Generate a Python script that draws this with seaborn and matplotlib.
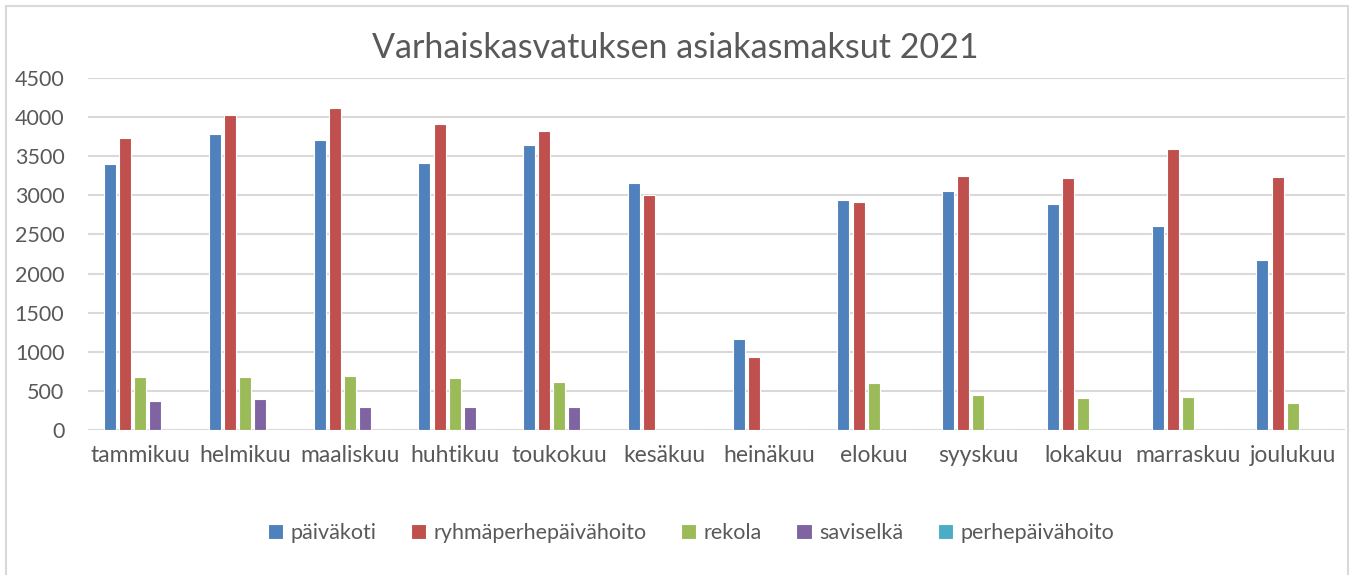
import pandas as pd
import matplotlib
matplotlib.use("Agg")
import matplotlib.pyplot as plt
import seaborn as sns
from matplotlib.patches import Rectangle

# Data
months = ["tammikuu", "helmikuu", "maaliskuu", "huhtikuu", "toukokuu", "kesäkuu",
          "heinäkuu", "elokuu", "syyskuu", "lokakuu", "marraskuu", "joulukuu"]
series = ["päiväkoti", "ryhmäperhepäivähoito", "rekola", "saviselkä", "perhepäivähoito"]

paivakoti = [3405, 3785, 3707, 3417, 3640, 3160, 1165, 2935, 3055, 2888, 2611, 2171]
ryhmaperhe = [3737, 4031, 4117, 3912, 3818, 2999, 934, 2914, 3246, 3221, 3592, 3238]
rekola = [678, 678, 695, 661, 619, 0, 0, 597, 448, 410, 422, 341]
saviselka = [371, 401, 299, 299, 299, 0, 0, 0, 0, 0, 0, 0]
perhepaivahoito = [0, 0, 0, 0, 0, 0, 0, 0, 0, 0, 0, 0]

colors = ["#4F81BD", "#C0504D", "#9BBB59", "#8064A2", "#4BACC6"]
text_color = "#595959"

df = pd.DataFrame({
    "kuukausi": months,
    series[0]: paivakoti,
    series[1]: ryhmaperhe,
    series[2]: rekola,
    series[3]: saviselka,
    series[4]: perhepaivahoito,
})
long_df = df.melt(id_vars="kuukausi", var_name="kohde", value_name="maksu")

sns.set_theme(style="white")
plt.rcParams["font.family"] = ["Lato", "DejaVu Sans"]

W, H = 1351, 575
fig = plt.figure(figsize=(W / 100, H / 100), dpi=100)
ax = fig.add_axes([88 / W, (H - 430) / H, (1345 - 88) / W, (430 - 78) / H])

sns.barplot(data=long_df, x="kuukausi", y="maksu", hue="kohde", hue_order=series,
            order=months, palette=colors, saturation=1, width=0.72, gap=0.2,
            edgecolor="white", linewidth=0.8, ax=ax)

handles, labels = ax.get_legend_handles_labels()
ax.get_legend().remove()

ax.set_ylim(0, 4500)
ax.set_yticks(range(0, 4501, 500))
ax.set_xlim(-0.5, len(months) - 0.5)
ax.grid(axis="y", color="#D9D9D9", linewidth=1.5)
ax.set_axisbelow(True)
for s in ax.spines.values():
    s.set_visible(False)
ax.set_xlabel("")
ax.set_ylabel("")
ax.tick_params(axis="both", length=0, colors=text_color)
ax.tick_params(axis="y", pad=17, labelsize=15.5)
ax.tick_params(axis="x", pad=11, labelsize=16.5)

fig.text(675 / W, 1 - 48 / H, "Varhaiskasvatuksen asiakasmaksut 2021",
         ha="center", va="center", fontsize=24.5, color=text_color)

fig.legend(handles, labels, loc="center", bbox_to_anchor=(691 / W, 1 - 533 / H),
           ncol=5, frameon=False, fontsize=15.5, labelcolor=text_color,
           handlelength=0.7, handleheight=0.7, handletextpad=0.35,
           columnspacing=1.6)

# chart border
fig.patches.append(Rectangle((6 / W, -0.02), (1348 - 6) / W, 1 - 6 / H + 0.02,
                             transform=fig.transFigure, fill=False,
                             edgecolor="#D9D9D9", linewidth=1.5))

fig.savefig("out.png", dpi=100)
